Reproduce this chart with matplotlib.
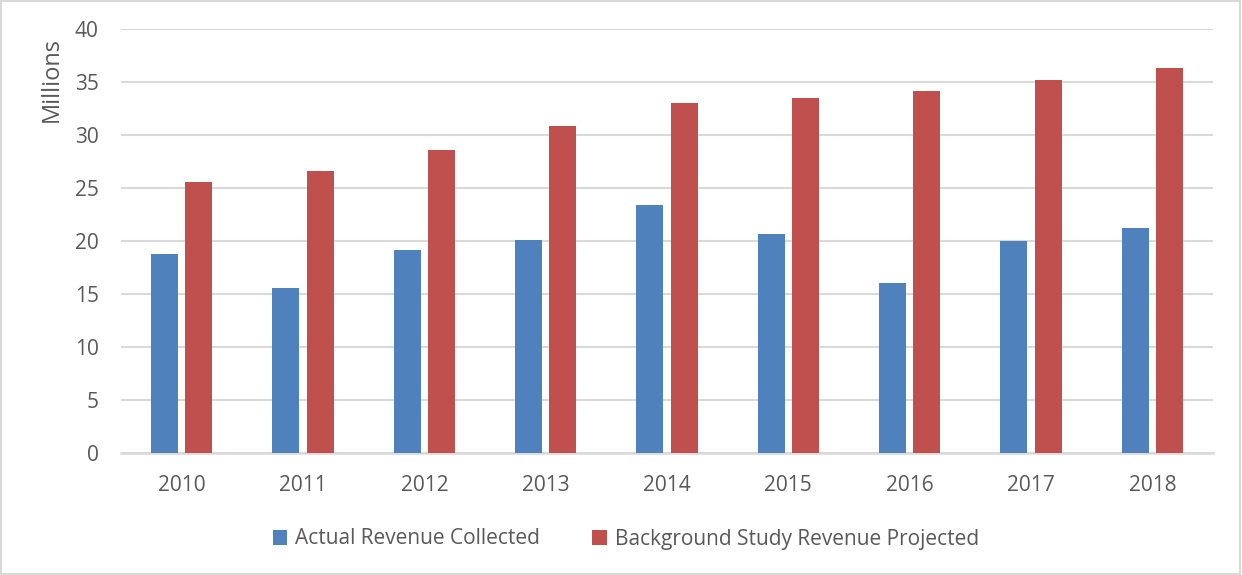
import matplotlib
matplotlib.use("Agg")
import matplotlib.pyplot as plt
import numpy as np
from matplotlib.patches import Rectangle

years = ["2010", "2011", "2012", "2013", "2014", "2015", "2016", "2017", "2018"]
actual = [18.8, 15.6, 19.15, 20.1, 23.37, 20.72, 16.07, 19.97, 21.25]
projected = [25.62, 26.66, 28.65, 30.85, 33.02, 33.52, 34.18, 35.25, 36.32]
series_names = ["Actual Revenue Collected", "Background Study Revenue Projected"]
yticks = [0, 5, 10, 15, 20, 25, 30, 35, 40]

plt.rcParams['font.family'] = ['Open Sans', 'DejaVu Sans']
text_color = '#595959'
grid_color = '#d9d9d9'
blue = '#4f81bd'
red = '#c0504d'

fig = plt.figure(figsize=(12.42, 5.75), dpi=100)
fig.patches.append(Rectangle((0.001, 0.001), 0.997, 0.997, transform=fig.transFigure,
                             fill=False, edgecolor=grid_color, linewidth=1.5))
ax = fig.add_axes([121/1242, 1-453/575, (1213-121)/1242, (453-29.3)/575])

x = np.arange(len(years))
w = 0.222
off = 0.141
ax.bar(x - off, actual, width=w, color=blue, label=series_names[0], zorder=3)
ax.bar(x + off, projected, width=w, color=red, label=series_names[1], zorder=3)

ax.set_xlim(-0.5, len(years) - 0.5)
ax.set_ylim(0, 40)
ax.set_yticks(yticks)
ax.set_xticks(x)
ax.set_xticklabels(years)
ax.yaxis.grid(True, color=grid_color, linewidth=1.5, zorder=0)
ax.set_axisbelow(True)
for s in ['top', 'right', 'left']:
    ax.spines[s].set_visible(False)
ax.spines['bottom'].set_color(grid_color)
ax.spines['bottom'].set_linewidth(1.8)
ax.tick_params(axis='both', length=0, labelsize=15, colors=text_color)
ax.tick_params(axis='y', pad=16)
ax.tick_params(axis='x', pad=16)

fig.text(52/1242, 1-80/575, "Millions", rotation=90, ha='center', va='center',
         fontsize=17, color=text_color)

leg = fig.legend(loc='center', bbox_to_anchor=(626/1242, 1-539/575), ncol=2,
                 frameon=False, fontsize=15, handlelength=0.7, handleheight=0.7,
                 handletextpad=0.4, columnspacing=2.5, labelcolor=text_color)

fig.savefig("out.png", dpi=100)
